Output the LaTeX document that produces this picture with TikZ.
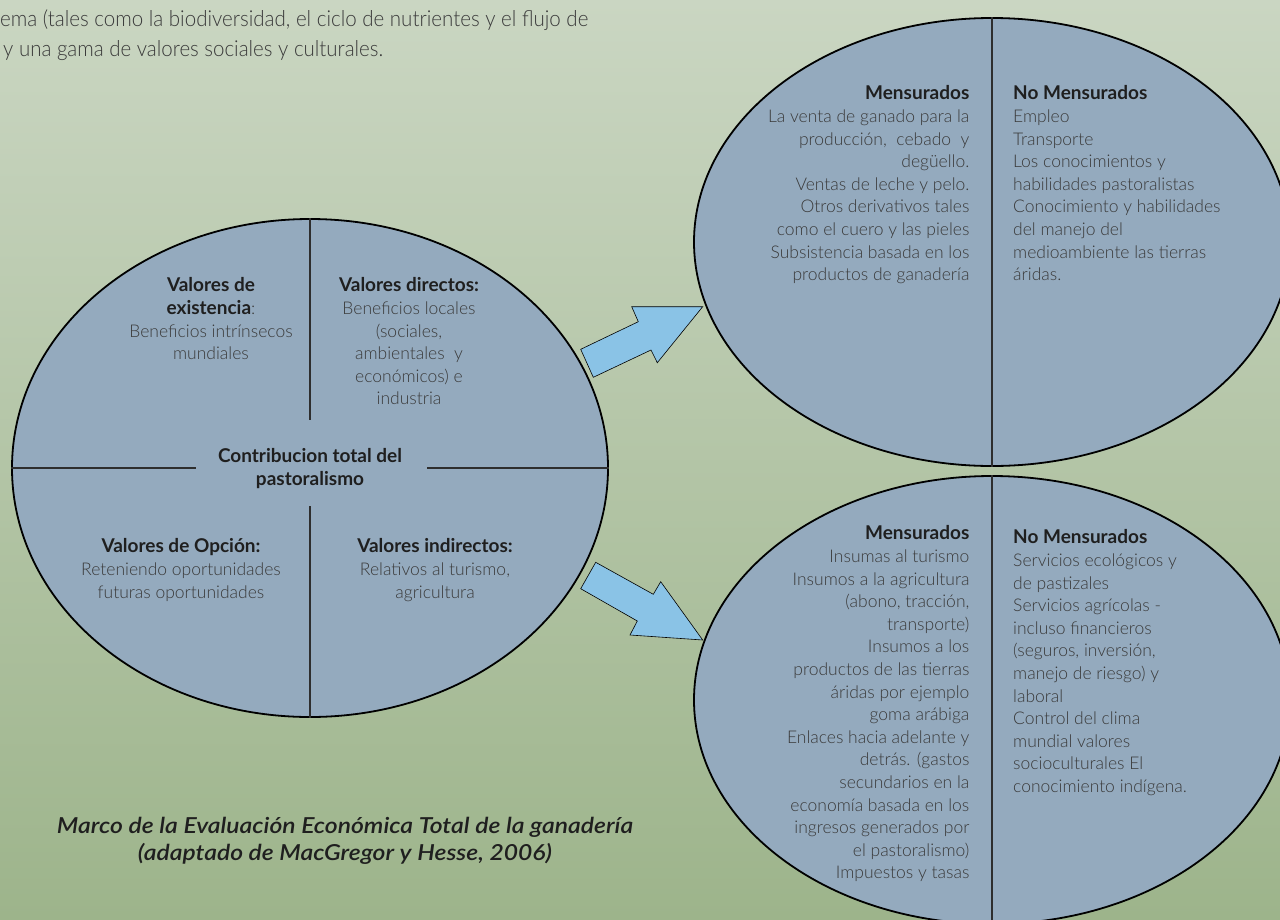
\documentclass[tikz,border=0pt]{standalone}
\usepackage{fontspec}
\usepackage{graphicx}
\usetikzlibrary{shapes.geometric}
\IfFontExistsTF{Lato Light}{%
  \newfontfamily\bodyfont{Lato Light}%
}{%
  \newfontfamily\bodyfont{Lato}%
}
\newfontfamily\headfont{Lato}
\IfFontExistsTF{Lato Semibold Italic}{%
  \newfontfamily\capfontbase{Lato Semibold Italic}\newcommand\capfont{\capfontbase}%
}{%
  \newcommand\capfont{\headfont\bfseries\itshape}%
}
\definecolor{bgtop}{HTML}{CAD6C2}
\definecolor{bgbot}{HTML}{9DB48B}
\definecolor{ellfill}{HTML}{94AABE}
\definecolor{arrfill}{HTML}{8AC3E6}
\definecolor{divcol}{HTML}{2E2E2E}
\definecolor{txtcol}{HTML}{3A3A3A}
\definecolor{hdcol}{HTML}{1F1F1F}
\newcommand\bodysize{\fontsize{17.5pt}{22.6pt}\selectfont}
\newcommand\hdx[1]{{\headfont\bfseries\fontsize{19pt}{22.6pt}\selectfont\color{hdcol}#1}}
\newcommand\fitw[2]{\resizebox{#1}{\height}{#2}}
\begin{document}
\begin{tikzpicture}[x=1pt,y=-1pt,
  ell/.style={ellipse, draw=black, line width=1.8pt, fill=ellfill, inner sep=0pt},
  div/.style={draw=divcol, line width=1.2pt},
  arr/.style={fill=arrfill, draw=black, line width=0.6pt, line join=miter},
  txt/.style={inner sep=0pt, text=txtcol, font=\bodyfont\bodysize,
    execute at begin node={\rule{0pt}{13.5pt}}},
  captxt/.style={inner sep=0pt, text=hdcol, font=\capfont\fontsize{22pt}{27pt}\selectfont,
    execute at begin node={\rule{0pt}{16pt}}},
  paratxt/.style={inner sep=0pt, text=txtcol, font=\bodyfont\fontsize{22pt}{30pt}\selectfont,
    execute at begin node={\rule{0pt}{17pt}}}]
\useasboundingbox (0,0) rectangle (1280,919);
\shade[top color=bgtop, bottom color=bgbot] (0,0) rectangle (1280,919);

% top-left paragraph fragment
\node[paratxt, anchor=north west, align=left] (para) at (0,10)
  {\fitw{588pt}{ema (tales como la biodiversidad, el ciclo de nutrientes y el flujo de}\\
   \hspace*{3pt}\fitw{380pt}{y una gama de valores sociales y culturales.}};

\begin{scope}
\clip (0,0) rectangle (1280,919);
\node[ell, minimum width=596pt, minimum height=498pt] (L) at (310,468) {};
\node[ell, minimum width=596pt, minimum height=448pt] (TR) at (992,242) {};
\node[ell, minimum width=596pt, minimum height=448pt] (BR) at (992,700) {};
% dividers
\coordinate (Lvt) at (310,420);
\coordinate (Lvb) at (310,506);
\coordinate (Lhl) at (196,468);
\coordinate (Lhr) at (427,468);
\draw[div] (L.north) -- (Lvt);
\draw[div] (Lvb) -- (L.south);
\draw[div] (L.west) -- (Lhl);
\draw[div] (Lhr) -- (L.east);
\draw[div] (TR.north) -- (TR.south);
\draw[div] (BR.north) -- (BR.south);
\end{scope}

% arrows
\draw[arr] (580.7,349.3) -- (638.3,321.7) -- (631.7,306.7) -- (702.7,306.7)
  -- (657.3,362.7) -- (651,350) -- (593.3,377.3) -- cycle;
\draw[arr] (595.7,562.3) -- (653.3,594.3) -- (660.7,581.7) -- (702.7,640)
  -- (630,635) -- (637.3,621) -- (580.7,588.7) -- cycle;

% left ellipse texts
\node[txt, anchor=north, align=center] (nA) at (211,277.5)
  {\hdx{Valores de}\\\hdx{existencia}:\\Beneficios intrínsecos\\mundiales};
\node[txt, anchor=north, align=center] (nB) at (409,277.5)
  {\hdx{Valores directos:}\\Beneficios locales\\(sociales,\\ambientales\ \ y\\económicos) e\\industria};
\node[txt, anchor=north, align=center] (nC) at (310,448.5)
  {\hdx{Contribucion total del}\\\hdx{pastoralismo}};
\node[txt, anchor=north, align=center] (nD) at (181,538.5)
  {\hdx{Valores de Opción:}\\Reteniendo oportunidades\\futuras oportunidades};
\node[txt, anchor=north, align=center] (nE) at (435,538.5)
  {\hdx{Valores indirectos:}\\Relativos al turismo,\\agricultura};

% top-right ellipse texts
\node[txt, anchor=north east, align=right] (nF) at (969.6,85.5)
  {\hdx{Mensurados}\\La venta de ganado para la\\producción,\ \ cebado\ \ y\\degüello.\\Ventas de leche y pelo.\\Otros derivativos tales\\como el cuero y las pieles\\Subsistencia basada en los\\productos de ganadería};
\node[txt, anchor=north west, align=left] (nG) at (1013,85.5)
  {\hdx{No Mensurados}\\Empleo\\Transporte\\Los conocimientos y\\habilidades pastoralistas\\Conocimiento y habilidades\\del manejo del\\medioambiente las tierras\\áridas.};

% bottom-right ellipse texts
\node[txt, anchor=north east, align=right] (nH) at (969.6,525.5)
  {\hdx{Mensurados}\\Insumas al turismo\\Insumos a la agricultura\\(abono, tracción,\\transporte)\\Insumos a los\\productos de las tierras\\áridas por ejemplo\\goma arábiga\\Enlaces hacia adelante y\\detrás. (gastos\\secundarios en la\\economía basada en los\\ingresos generados por\\el pastoralismo)\\Impuestos y tasas};
\node[txt, anchor=north west, align=left] (nI) at (1013,529.5)
  {\hdx{No Mensurados}\\Servicios ecológicos y\\de pastizales\\Servicios agrícolas -\\incluso financieros\\(seguros, inversión,\\manejo de riesgo) y\\laboral\\Control del clima\\mundial valores\\socioculturales El\\conocimiento indígena.};

% caption
\node[captxt, anchor=north, align=center] (cap) at (345,817)
  {\fitw{576pt}{Marco de la Evaluación Económica Total de la ganadería}\\\fitw{414pt}{(adaptado de MacGregor y Hesse, 2006)}};
\end{tikzpicture}
\end{document}
